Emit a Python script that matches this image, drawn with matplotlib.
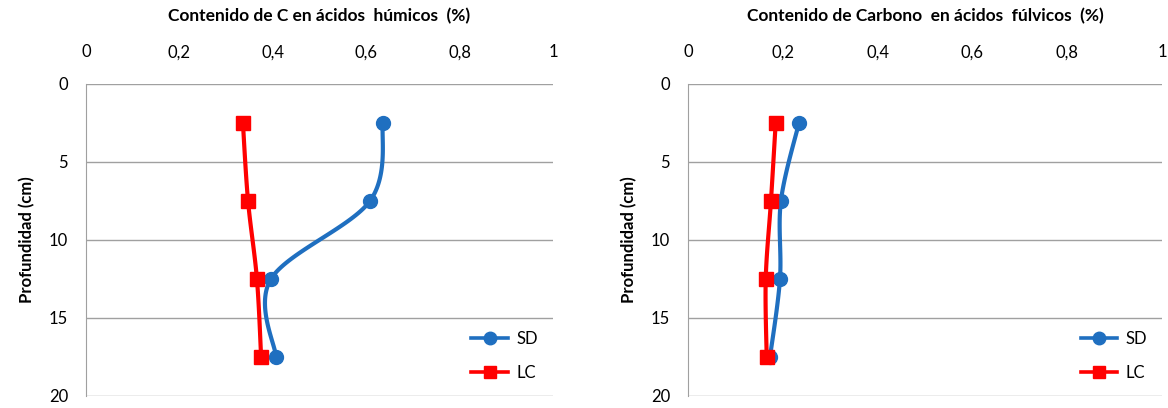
import numpy as np
import matplotlib
matplotlib.use("Agg")
import matplotlib.pyplot as plt

plt.rcParams['font.family'] = ['Lato', 'DejaVu Sans']

depth = [2.5, 7.5, 12.5, 17.5]
humic_sd = [0.636, 0.608, 0.396, 0.407]
humic_lc = [0.336, 0.347, 0.366, 0.375]
fulvic_sd = [0.234, 0.196, 0.194, 0.173]
fulvic_lc = [0.185, 0.175, 0.164, 0.166]
xticks = [0, 0.2, 0.4, 0.6, 0.8, 1]
xticklabels = ['0', '0,2', '0,4', '0,6', '0,8', '1']
yticks = [0, 5, 10, 15, 20]
titles = ['Contenido de C en ácidos  húmicos  (%)',
          'Contenido de Carbono  en ácidos  fúlvicos  (%)']
ylabel = 'Profundidad (cm)'

BLUE = '#1F6FC0'
RED = '#FF0000'
GRID = '#A0A0A0'


def smooth(x, y, sx, sy, n=40):
    # Catmull-Rom (Excel-style) smoothing in display-proportional space
    px = np.asarray(x) * sx
    py = np.asarray(y) * sy
    P = np.column_stack([px, py])
    P = np.vstack([P[0], P, P[-1]])
    out = []
    for i in range(1, len(P) - 2):
        p0, p1, p2, p3 = P[i - 1], P[i], P[i + 1], P[i + 2]
        c1 = p1 + (p2 - p0) / 6
        c2 = p2 - (p3 - p1) / 6
        t = np.linspace(0, 1, n)[:, None]
        b = ((1 - t) ** 3) * p1 + 3 * ((1 - t) ** 2) * t * c1 + 3 * (1 - t) * t ** 2 * c2 + t ** 3 * p2
        out.append(b if i == 1 else b[1:])
    out = np.vstack(out)
    return out[:, 0] / sx, out[:, 1] / sy


fig = plt.figure(figsize=(11.68, 4.08), dpi=100)
positions = [(86, 553), (688, 1162)]
series = [(humic_sd, humic_lc), (fulvic_sd, fulvic_lc)]
for k, ((l, r), (sd, lc)) in enumerate(zip(positions, series)):
    ax = fig.add_axes([l / 1168, 1 - 396 / 408, (r - l) / 1168, (396 - 84) / 408])
    ax.set_xlim(0, 1)
    ax.set_ylim(20, 0)
    w = r - l
    h = 312
    xs, ys = smooth(sd, depth, w, h / 20)
    ax.plot(xs, ys, color=BLUE, lw=3, solid_capstyle='round', zorder=3)
    ax.plot(sd, depth, 'o', color=BLUE, ms=10, zorder=4)
    xs, ys = smooth(lc, depth, w, h / 20)
    ax.plot(xs, ys, color=RED, lw=3, solid_capstyle='round', zorder=3)
    ax.plot(lc, depth, 's', color=RED, ms=10, zorder=4)
    # legend proxies
    ax.plot([], [], color=BLUE, lw=2.6, marker='o', ms=9, label='SD')
    ax.plot([], [], color=RED, lw=2.6, marker='s', ms=9, label='LC')
    ax.legend(loc='lower right', bbox_to_anchor=(1.0, 0.0), frameon=False,
              fontsize=12, handlelength=2.2, labelspacing=1.1, handletextpad=0.5)
    ax.set_xticks(xticks)
    ax.set_xticklabels(xticklabels)
    ax.set_yticks(yticks)
    ax.xaxis.tick_top()
    ax.tick_params(axis='both', length=0, labelsize=12, colors='black')
    ax.tick_params(axis='x', pad=17)
    ax.tick_params(axis='y', pad=13)
    ax.grid(axis='y', color=GRID, lw=1)
    for s in ['top', 'right', 'bottom']:
        ax.spines[s].set_visible(False)
    ax.spines['left'].set_color(GRID)
    ax.set_axisbelow(True)
    ax.set_title(titles[k], fontsize=12.5, fontweight='bold', pad=45)
    ax.set_ylabel(ylabel, fontsize=12, fontweight='bold', labelpad=10)

fig.savefig('out.png', dpi=100)
